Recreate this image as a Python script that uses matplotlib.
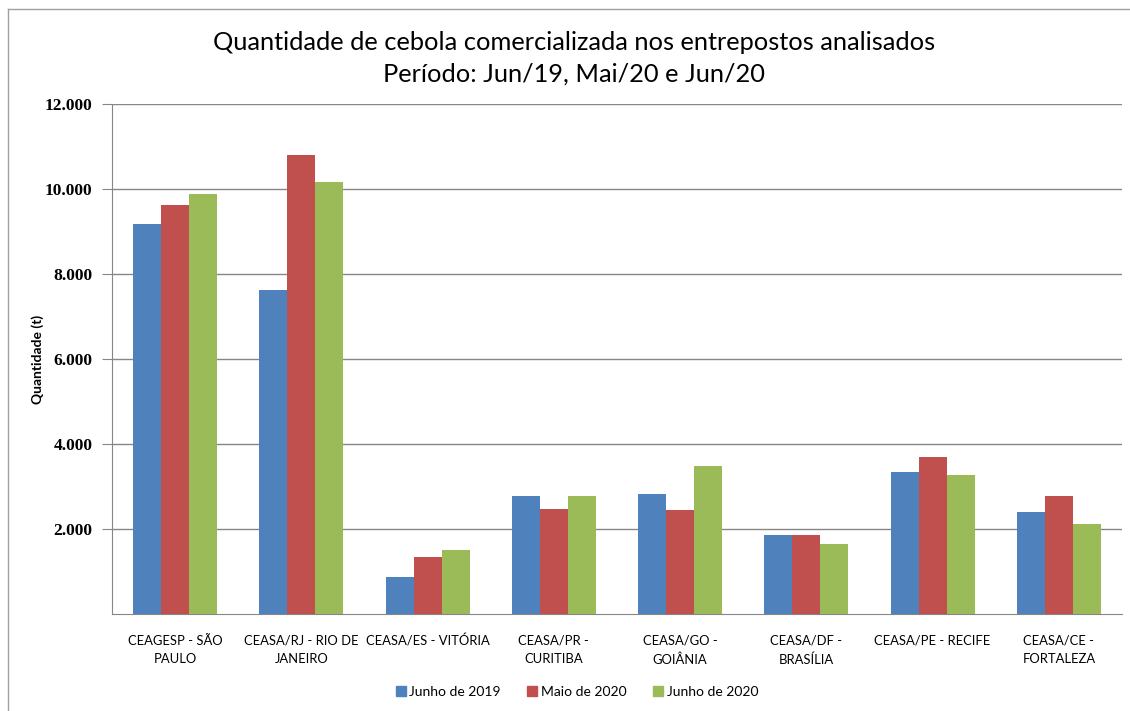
import matplotlib
matplotlib.use("Agg")
from matplotlib import pyplot as plt
from matplotlib.lines import Line2D
from matplotlib.ticker import FuncFormatter
import numpy as np

categories = ['CEAGESP - SÃO\nPAULO', 'CEASA/RJ - RIO DE\nJANEIRO', 'CEASA/ES - VITÓRIA',
              'CEASA/PR -\nCURITIBA', 'CEASA/GO -\nGOIÂNIA', 'CEASA/DF -\nBRASÍLIA',
              'CEASA/PE - RECIFE', 'CEASA/CE -\nFORTALEZA']
series_names = ['Junho de 2019', 'Maio de 2020', 'Junho de 2020']
jun19 = [9180, 7630, 880, 2785, 2825, 1850, 3335, 2400]
mai20 = [9620, 10800, 1335, 2460, 2440, 1850, 3695, 2785]
jun20 = [9880, 10170, 1513, 2785, 3480, 1640, 3270, 2110]
yticks = [2000, 4000, 6000, 8000, 10000, 12000]

colors = ['#4F81BD', '#C0504D', '#9BBB59']
small_font = ['Lato', 'DejaVu Sans']
title_font = ['Lato', 'DejaVu Sans']

fig = plt.figure(figsize=(11.3, 7.11), dpi=100)
ax = fig.add_axes([112/1130, 97/711, 1010/1130, 510/711])

x = np.arange(len(categories))
w = 0.222
for i, vals in enumerate([jun19, mai20, jun20]):
    ax.bar(x + (i - 1) * w, vals, width=w, color=colors[i], label=series_names[i], zorder=3)

ax.set_xlim(-0.5, len(categories) - 0.5)
ax.set_ylim(0, 12000)
ax.set_yticks(yticks)
ax.yaxis.set_major_formatter(FuncFormatter(lambda v, p: f'{int(v):,}'.replace(',', '.')))
ax.set_xticks(x)
ax.set_xticklabels(categories, fontsize=9.4, family=small_font, linespacing=1.6)
for lab in ax.get_yticklabels():
    lab.set_family(['Liberation Serif', 'DejaVu Serif'])
    lab.set_fontweight('bold')
    lab.set_fontsize(12.5)
ax.tick_params(axis='x', length=0, pad=15)
ax.tick_params(axis='y', length=7, color='#868686', pad=7)
ax.grid(axis='y', color='#868686', linewidth=1, zorder=0)
for s in ['top', 'right']:
    ax.spines[s].set_visible(False)
for s in ['left', 'bottom']:
    ax.spines[s].set_color('#868686')
ax.set_ylabel('Quantidade (t)', fontsize=10, fontweight='bold', family=title_font)
ax.yaxis.set_label_coords(-68/1010, 0.5)

fig.text(574/1130, 1 - 43/711, 'Quantidade de cebola comercializada nos entrepostos analisados',
         ha='center', va='center', fontsize=18.3, family=title_font)
fig.text(574/1130, 1 - 74/711, 'Período: Jun/19, Mai/20 e Jun/20',
         ha='center', va='center', fontsize=18.3, family=title_font)

handles = [Line2D([], [], marker='s', linestyle='', markersize=7, color=c) for c in colors]
fig.legend(handles, series_names, loc='center', bbox_to_anchor=(576/1130, 1 - 692/711), ncol=3,
           frameon=False, prop={'family': small_font, 'size': 10}, handletextpad=0.1,
           columnspacing=1.8, handlelength=1.0)

# outer chart border (only top and left visible in the crop)
fig.add_artist(Line2D([8/1130, 8/1130], [0, 1 - 9/711], transform=fig.transFigure, color='#A0A0A0', lw=1))
fig.add_artist(Line2D([8/1130, 1], [1 - 9/711, 1 - 9/711], transform=fig.transFigure, color='#A0A0A0', lw=1))

fig.savefig('out.png', dpi=100)
